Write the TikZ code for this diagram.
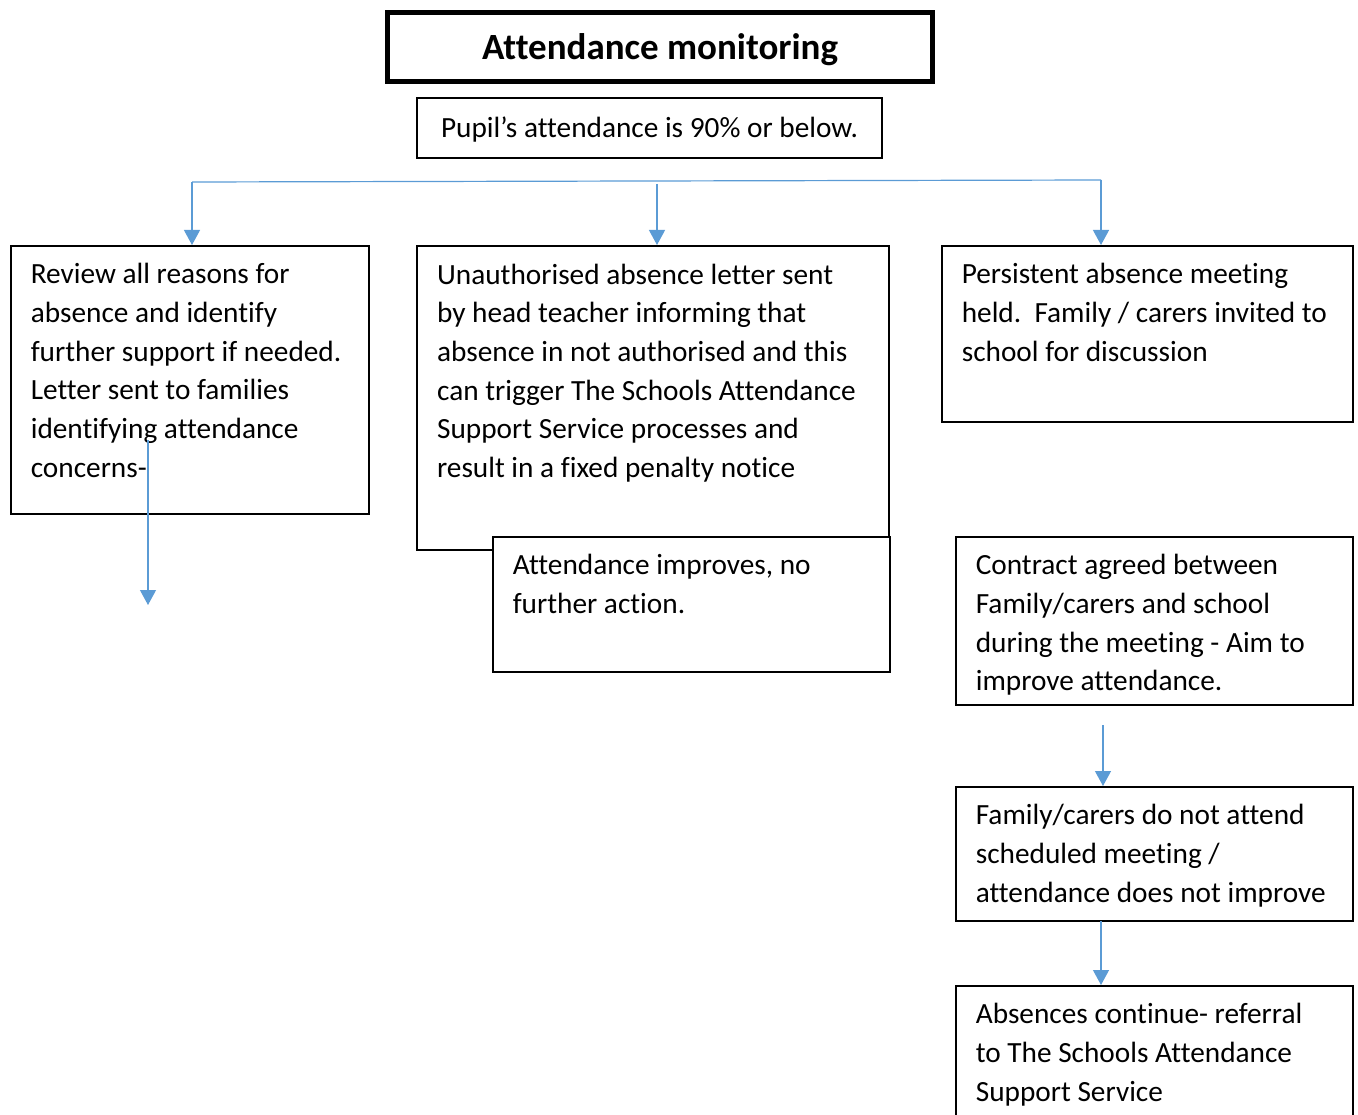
\documentclass[tikz,border=0pt]{standalone}
\usepackage{fontspec}
\setmainfont{Carlito}[Ligatures={NoCommon,NoRequired,NoContextual}]
\usetikzlibrary{arrows.meta}
\definecolor{linkblue}{RGB}{91,155,213}
\newcommand{\boxtext}[3]{\parbox[t][#2pt][t]{#1pt}{\rule{0pt}{38pt}#3}}
\tikzset{
  body/.style={font=\fontsize{29.3}{38.7}\selectfont},
  box/.style={draw, body, line width=1.6pt, anchor=north west, inner xsep=20pt, inner ysep=0pt, fill=white},
  link/.style={draw=linkblue, line width=1.2pt},
  linkarrow/.style={link, -{Triangle[width=16pt,length=15pt]}},
}

\begin{document}
\begin{tikzpicture}[x=1pt,y=-1pt]
  \useasboundingbox (0,0) rectangle (1358,1115);
  \draw
    (660,47) node[draw, line width=5pt, minimum width=545pt, minimum height=69pt, text depth=1pt,
      font=\bfseries\fontsize{37}{44}\selectfont] (title){Attendance monitoring}
    (649.5,128) node[draw, body, line width=1.6pt, minimum width=465pt, minimum height=60pt, text depth=1pt] (pupil){Pupil’s attendance is 90\% or below.}
    (10,245) node[box] (review){\boxtext{318}{268}{Review all reasons for\\absence and identify\\further support if needed.\\Letter sent to families\\identifying attendance\\concerns-}}
    (416,245) node[box, line width=2.2pt] (letter){\boxtext{432}{304}{Unauthorised absence letter sent\\by head teacher informing that\\absence in not authorised and this\\can trigger The Schools Attendance\\Support Service processes and\\result in a fixed penalty notice}}
    (941,245) node[box] (meeting){\boxtext{371}{176}{Persistent absence meeting\\held.\ \ Family / carers invited to\\school for discussion}}
    (492,536) node[box] (improves){\boxtext{357}{135}{Attendance improves, no\\further action.}}
    (955,536) node[box] (contract){\boxtext{357}{168}{Contract agreed between\\Family/carers and school\\during the meeting - Aim to\\improve attendance.}}
    (955,786) node[box] (noattend){\boxtext{357}{134}{Family/carers do not attend\\scheduled meeting /\\attendance does not improve}}
    (955,985) node[box] (referral){\boxtext{357}{160}{Absences continue- referral\\to The Schools Attendance\\Support Service}};
  \coordinate (hl) at (192,182);
  \coordinate (hm) at (657,184);
  \coordinate (hr) at (1101,180);
  \coordinate (da) at (148,440);
  \coordinate (db) at (148,605);
  \coordinate (ca) at (1103,725);
  \coordinate (na) at (1101,921);
  \draw[link] (hl) -- (hr);
  \begin{scope}[linkarrow]
    \draw (hl) -- (hl |- review.north);
    \draw (hm) -- (hm |- letter.north);
    \draw (hr) -- (hr |- meeting.north);
    \draw (da) -- (db);
    \draw (ca) -- (ca |- noattend.north);
    \draw (na) -- (na |- referral.north);
  \end{scope}
\end{tikzpicture}
\end{document}
